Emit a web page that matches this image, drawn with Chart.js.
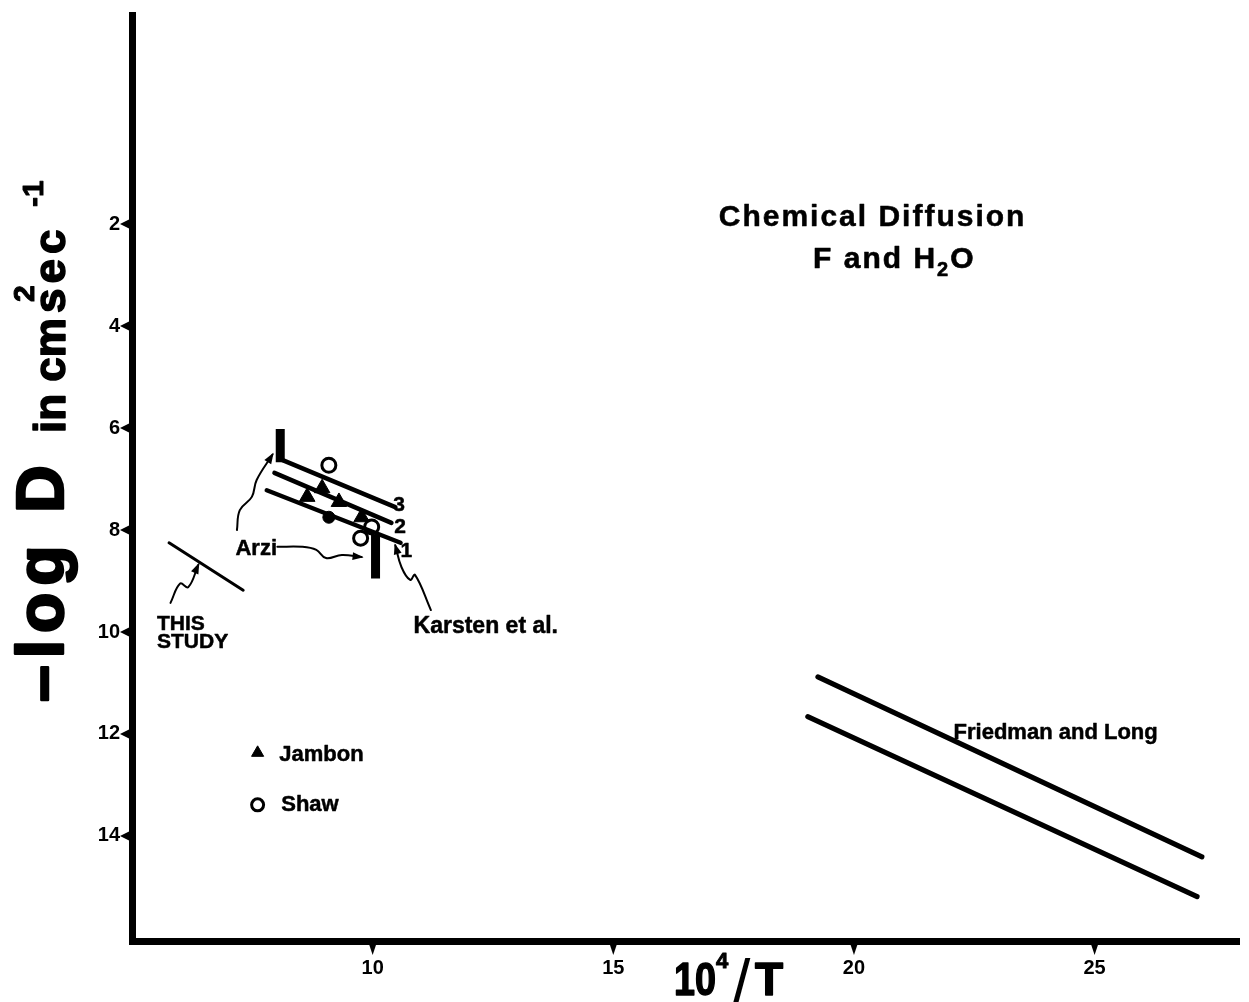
<!DOCTYPE html>
<html lang="en">
<head>
<meta charset="UTF-8">
<title>Chemical Diffusion - F and H2O</title>
<script src="https://cdn.jsdelivr.net/npm/chart.js"></script>
<style>
    body { margin: 0; background: #fff; }
    #wrap { width: 1249px; height: 1002px; }
</style>
</head>
<body>
<div id="wrap"><canvas id="chart" width="1249" height="1002"></canvas></div>
<script>
// tick labels
const xTicks = [10, 15, 20, 25];
const yTicks = [2, 4, 6, 8, 10, 12, 14];

// Friedman and Long (two lines)
const friedmanUpper = [[19.25, 10.88], [27.23, 14.41]];
const friedmanLower = [[19.04, 11.66], [27.13, 15.19]];

// this study
const thisStudy = [[5.77, 8.25], [7.31, 9.18]];

// Karsten et al. lines 1, 2, 3
const karsten1 = [[7.80, 7.22], [10.58, 8.25]];
const karsten2 = [[7.96, 6.88], [10.39, 7.86]];
const karsten3 = [[8.13, 6.63], [10.47, 7.55]];

// Arzi bars (vertical ranges)
const arziHigh = [[8.08, 6.02], [8.08, 6.67]];
const arziLow = [[10.06, 8.10], [10.06, 8.95]];

// Jambon (triangles) and Shaw (open circles)
const jambon = [[8.64, 7.35], [8.95, 7.18], [9.30, 7.45], [9.77, 7.75]];
const filledDot = [[9.09, 7.75]];
const shaw = [[9.09, 6.73], [9.98, 7.94], [9.75, 8.16]];

// legend symbols
const jambonKey = [[7.61, 12.37]];
const shawKey = [[7.61, 13.39]];

// arrows that point from the labels
const arrowStudy = [[5.80, 9.43], [6.00, 9.05], [6.17, 9.12], [6.38, 8.68]];
const arrowArziUp = [[7.18, 8.00], [7.24, 7.61], [7.49, 7.35], [7.59, 7.02], [7.92, 6.52]];
const arrowArziRight = [[8.02, 8.33], [8.54, 8.33], [8.83, 8.39], [9.03, 8.55], [9.36, 8.49], [9.77, 8.53]];
const arrowKarsten = [[11.21, 9.57], [10.88, 8.88], [10.78, 8.98], [10.60, 8.73], [10.47, 8.30]];

const FONT = "'Liberation Sans', Arial, sans-serif";

// text notes, in data units
const notes = [
    { text: 'Chemical Diffusion', x: 17.19, y: 2.04, size: 30, sp: 2 },
    { text: 'Friedman and Long', x: 22.07, y: 12.10, size: 22, sp: 0 },
    { text: 'Karsten et al.', x: 10.85, y: 10.02, size: 23, sp: 0 },
    { text: 'Arzi', x: 7.15, y: 8.49, size: 22, sp: 0 },
    { text: 'THIS', x: 5.52, y: 9.96, size: 21, sp: 0 },
    { text: 'STUDY', x: 5.52, y: 10.31, size: 21, sp: 0 },
    { text: '3', x: 10.43, y: 7.63, size: 21, sp: 0 },
    { text: '2', x: 10.45, y: 8.06, size: 21, sp: 0 },
    { text: '1', x: 10.58, y: 8.53, size: 21, sp: 0 },
    { text: 'Jambon', x: 8.06, y: 12.53, size: 22, sp: 0 },
    { text: 'Shaw', x: 8.10, y: 13.51, size: 22, sp: 0 }
];

const pts = arr => arr.map(p => ({ x: p[0], y: p[1] }));

function lineSet(arr, width) {
    return { data: pts(arr), showLine: true, borderColor: '#000', borderWidth: width,
             pointRadius: 0, borderCapStyle: 'round', tension: 0 };
}
function arrowSet(arr) {
    const d = lineSet(arr, 2);
    d.tension = 0.4;
    d.isArrow = true;
    return d;
}
function markSet(arr, style, r, fill, bw) {
    return { data: pts(arr), showLine: false, pointStyle: style, pointRadius: r,
             backgroundColor: fill, borderColor: '#000', borderWidth: bw };
}

const arziA = lineSet(arziHigh, 9); arziA.borderCapStyle = 'butt';
const arziB = lineSet(arziLow, 9); arziB.borderCapStyle = 'butt';

// heavy text: fill plus a thin stroke
function heavy(ctx, s, x, y, lw) {
    ctx.lineWidth = lw;
    ctx.lineJoin = 'round';
    ctx.strokeText(s, x, y);
    ctx.fillText(s, x, y);
}

const decor = {
    id: 'decor',
    afterDraw(chart) {
        const ctx = chart.ctx;
        const xs = chart.scales.x, ys = chart.scales.y;
        ctx.save();
        ctx.fillStyle = '#000';
        ctx.strokeStyle = '#000';

        // triangle tick marks
        yTicks.forEach(v => {
            const py = ys.getPixelForValue(v);
            ctx.beginPath();
            ctx.moveTo(120, py); ctx.lineTo(130, py - 5); ctx.lineTo(130, py + 5);
            ctx.closePath(); ctx.fill();
        });
        xTicks.forEach(v => {
            const px = xs.getPixelForValue(v);
            ctx.beginPath();
            ctx.moveTo(px - 4, 943); ctx.lineTo(px + 4, 943); ctx.lineTo(px, 955);
            ctx.closePath(); ctx.fill();
        });

        // arrow heads
        chart.data.datasets.forEach(ds => {
            if (!ds.isArrow) return;
            const n = ds.data.length;
            const a = ds.data[n - 2], b = ds.data[n - 1];
            const ax = xs.getPixelForValue(a.x), ay = ys.getPixelForValue(a.y);
            const bx = xs.getPixelForValue(b.x), by = ys.getPixelForValue(b.y);
            const ang = Math.atan2(by - ay, bx - ax);
            ctx.save();
            ctx.translate(bx, by); ctx.rotate(ang);
            ctx.beginPath();
            ctx.moveTo(2, 0); ctx.lineTo(-9, -4); ctx.lineTo(-9, 4);
            ctx.closePath(); ctx.fill();
            ctx.restore();
        });

        // notes
        ctx.textAlign = 'left';
        ctx.textBaseline = 'alphabetic';
        notes.forEach(n => {
            ctx.font = 'bold ' + n.size + 'px ' + FONT;
            ctx.letterSpacing = n.sp + 'px';
            heavy(ctx, n.text, xs.getPixelForValue(n.x), ys.getPixelForValue(n.y), 0.5);
        });
        ctx.letterSpacing = '0px';

        // F and H2O
        const fx = xs.getPixelForValue(19.15), fy = ys.getPixelForValue(2.86);
        ctx.font = 'bold 30px ' + FONT;
        ctx.letterSpacing = '2px';
        heavy(ctx, 'F and H', fx, fy, 0.6);
        let w = ctx.measureText('F and H').width;
        ctx.font = 'bold 20px ' + FONT;
        heavy(ctx, '2', fx + w, fy + 8, 0.6);
        w += ctx.measureText('2').width;
        ctx.font = 'bold 30px ' + FONT;
        heavy(ctx, 'O', fx + w, fy, 0.6);
        ctx.letterSpacing = '0px';

        // y axis title
        ctx.save();
        ctx.translate(63, 702); ctx.rotate(-Math.PI / 2);
        ctx.font = 'bold 66px ' + FONT;
        ctx.letterSpacing = '7px';
        heavy(ctx, '\u2013log', 0, 0, 2.5);
        ctx.letterSpacing = '0px';
        ctx.restore();

        ctx.save();
        ctx.translate(63, 513); ctx.rotate(-Math.PI / 2);
        ctx.font = 'bold 66px ' + FONT;
        heavy(ctx, 'D', 0, 0, 2.5);
        ctx.restore();

        ctx.save();
        ctx.translate(65, 433); ctx.rotate(-Math.PI / 2);
        ctx.font = 'bold 44px ' + FONT;
        heavy(ctx, 'in cm', 0, 0, 1.5);
        ctx.letterSpacing = '5px';
        heavy(ctx, 'sec', 120, 0, 1.5);
        ctx.letterSpacing = '0px';
        ctx.font = 'bold 30px ' + FONT;
        heavy(ctx, '2', 131, -31, 1);
        heavy(ctx, '-1', 226, -22, 1);
        ctx.restore();

        // x axis title
        ctx.save();
        ctx.translate(674, 995); ctx.scale(0.82, 1);
        ctx.font = 'bold 46px ' + FONT;
        heavy(ctx, '10', 0, 0, 1.5);
        ctx.restore();
        ctx.font = 'bold 22px ' + FONT;
        heavy(ctx, '4', 716, 968, 1);
        ctx.font = '66px ' + FONT;
        ctx.fillText('/', 732, 1006);
        ctx.font = 'bold 46px ' + FONT;
        heavy(ctx, 'T', 755, 995, 1.5);

        ctx.restore();
    }
};

const tickFont = { family: FONT, weight: 'bold', size: 20 };

new Chart(document.getElementById('chart'), {
    type: 'scatter',
    data: {
        datasets: [
            lineSet(friedmanUpper, 5),
            lineSet(friedmanLower, 5),
            lineSet(thisStudy, 3),
            lineSet(karsten1, 4.5),
            lineSet(karsten2, 4.5),
            lineSet(karsten3, 4.5),
            arziA,
            arziB,
            markSet(jambon, 'triangle', 9, '#000', 1),
            markSet(filledDot, 'circle', 6, '#000', 1),
            markSet(shaw, 'circle', 7, '#fff', 3),
            markSet(jambonKey, 'triangle', 7, '#000', 1),
            markSet(shawKey, 'circle', 6, '#fff', 3),
            arrowSet(arrowStudy),
            arrowSet(arrowArziUp),
            arrowSet(arrowArziRight),
            arrowSet(arrowKarsten)
        ]
    },
    options: {
        responsive: false,
        animation: false,
        layout: { padding: { top: 15, right: 4, left: 0, bottom: 0 } },
        plugins: { legend: { display: false }, tooltip: { enabled: false } },
        scales: {
            x: {
                type: 'linear', min: 5, max: 28,
                grid: { display: false, drawTicks: false },
                border: { display: true, color: '#000', width: 7 },
                afterBuildTicks: s => { s.ticks = xTicks.map(v => ({ value: v })); },
                afterFit: s => { s.height = 61; s.paddingLeft = 0; s.paddingRight = 0; },
                ticks: { padding: 15, color: '#000', font: tickFont, maxRotation: 0, autoSkip: false }
            },
            y: {
                type: 'linear', reverse: true, min: -2.1, max: 16.06,
                grid: { display: false, drawTicks: false },
                border: { display: true, color: '#000', width: 7 },
                afterBuildTicks: s => { s.ticks = yTicks.map(v => ({ value: v })); },
                afterFit: s => { s.width = 132; s.paddingTop = 0; s.paddingBottom = 0; },
                ticks: { padding: 12, color: '#000', font: tickFont, autoSkip: false }
            }
        }
    },
    plugins: [decor]
});
</script>
</body>
</html>
